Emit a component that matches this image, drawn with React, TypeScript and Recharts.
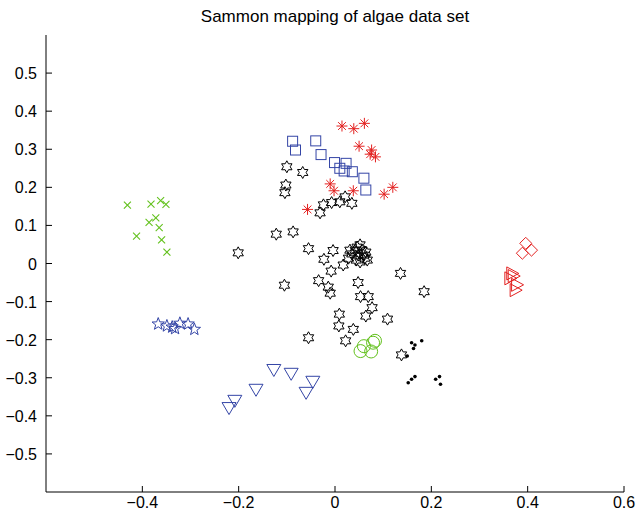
import React from "react";
import { ScatterChart, Scatter, XAxis, YAxis } from "recharts";

const TITLE = "Sammon mapping of algae data set";
const X_TICKS = [-0.4, -0.2, 0, 0.2, 0.4, 0.6];
const Y_TICKS = [-0.5, -0.4, -0.3, -0.2, -0.1, 0, 0.1, 0.2, 0.3, 0.4, 0.5];

const greenCrosses: [number, number][] = [
  [-0.431, 0.153], [-0.382, 0.156], [-0.362, 0.165], [-0.351, 0.155], [-0.372, 0.12],
  [-0.386, 0.108], [-0.365, 0.094], [-0.412, 0.072], [-0.36, 0.062], [-0.349, 0.03],
];
const blueStars: [number, number][] = [
  [-0.367, -0.159], [-0.349, -0.164], [-0.338, -0.167], [-0.332, -0.171],
  [-0.322, -0.157], [-0.305, -0.159], [-0.292, -0.173],
];
const blueTriangles: [number, number][] = [
  [-0.127, -0.277], [-0.091, -0.287], [-0.164, -0.329], [-0.046, -0.308],
  [-0.06, -0.337], [-0.208, -0.358], [-0.22, -0.377],
];
const redAsterisks: [number, number][] = [
  [0.0145, 0.361], [0.039, 0.354], [0.061, 0.368], [0.05, 0.308], [0.076, 0.298],
  [0.073, 0.287], [0.084, 0.28], [-0.01, 0.209], [-0.002, 0.191], [0.038, 0.191],
  [0.12, 0.2], [0.102, 0.182], [-0.057, 0.142],
];
const blueSquares: [number, number][] = [
  [-0.088, 0.321], [-0.082, 0.298], [-0.04, 0.322], [-0.029, 0.286], [-0.001, 0.265],
  [0.023, 0.263], [0.01, 0.25], [0.019, 0.243], [0.036, 0.241], [0.06, 0.224], [0.064, 0.193],
];
const blackHexagrams: [number, number][] = [
  [-0.1, 0.254], [-0.067, 0.239], [-0.102, 0.206], [-0.104, 0.186], [-0.031, 0.133],
  [-0.024, 0.154], [-0.007, 0.16], [0.01, 0.162], [0.021, 0.175], [0.035, 0.158],
  [-0.122, 0.077], [-0.087, 0.083], [-0.201, 0.028], [-0.055, 0.039], [-0.023, 0.011],
  [-0.004, 0.034], [0.017, -0.004], [0.028, 0.014], [0.031, 0.035], [0.052, 0.049],
  [0.059, 0.022], [0.067, 0.009], [0.042, 0.035], [0.048, 0.022], [0.056, 0.035],
  [0.062, 0.014], [0.044, 0.009], [0.052, 0.004], [0.064, 0.03], [0.035, 0.025],
  [0.046, 0.043], [-0.008, -0.02], [-0.034, -0.045], [-0.014, -0.062], [-0.01, -0.078],
  [-0.105, -0.057], [0.048, -0.05], [0.053, -0.087], [0.069, -0.087], [0.077, -0.116],
  [0.064, -0.138], [0.109, -0.146], [0.009, -0.133], [0.008, -0.164], [0.038, -0.173],
  [-0.055, -0.195], [0.022, -0.203], [0.136, -0.026], [0.185, -0.074], [0.138, -0.24],
];
const greenCircles: [number, number][] = [
  [0.053, -0.23], [0.06, -0.217], [0.075, -0.231], [0.083, -0.203], [0.079, -0.208],
];
const blackDots: [number, number][] = [
  [0.159, -0.208], [0.166, -0.214], [0.163, -0.223], [0.18, -0.203], [0.15, -0.243],
  [0.152, -0.313], [0.159, -0.304], [0.166, -0.297], [0.209, -0.304], [0.217, -0.297], [0.219, -0.317],
];
const redDiamonds: [number, number][] = [
  [0.396, 0.053], [0.389, 0.027], [0.408, 0.035],
];
const redRightTriangles: [number, number][] = [
  [0.367, -0.026], [0.37, -0.033], [0.363, -0.039], [0.377, -0.056], [0.374, -0.07],
];

const GREEN = "#62c11c";
const BLUE = "#3445a6";
const RED = "#e3201f";
const BLACK = "#000000";
const FONT = "'Liberation Sans', Arial, Helvetica, sans-serif";

const toPts = (arr: [number, number][]) => arr.map(([x, y]) => ({ x, y }));

const starPoints = (cx: number, cy: number, n: number, ro: number, ri: number, rot = -Math.PI / 2) => {
  const pts: string[] = [];
  for (let i = 0; i < n * 2; i++) {
    const r = i % 2 === 0 ? ro : ri;
    const a = rot + (i * Math.PI) / n;
    pts.push(`${(cx + r * Math.cos(a)).toFixed(2)},${(cy + r * Math.sin(a)).toFixed(2)}`);
  }
  return pts.join(" ");
};

const Cross = ({ cx, cy }: any) => (
  <g stroke={GREEN} strokeWidth={1.1}>
    <line x1={cx - 3.5} y1={cy - 3.5} x2={cx + 3.5} y2={cy + 3.5} />
    <line x1={cx - 3.5} y1={cy + 3.5} x2={cx + 3.5} y2={cy - 3.5} />
  </g>
);
const Star5 = ({ cx, cy }: any) => (
  <polygon points={starPoints(cx, cy, 5, 6.5, 2.7)} fill="none" stroke={BLUE} strokeWidth={1} />
);
const TriDown = ({ cx, cy }: any) => (
  <polygon points={`${cx - 7},${cy - 4.5} ${cx + 7},${cy - 4.5} ${cx},${cy + 7.5}`} fill="none" stroke={BLUE} strokeWidth={1} />
);
const Square = ({ cx, cy }: any) => (
  <rect x={cx - 5} y={cy - 5} width={10} height={10} fill="none" stroke={BLUE} strokeWidth={1} />
);
const Asterisk = ({ cx, cy }: any) => {
  const r = 5.5;
  const d = r * Math.SQRT1_2;
  return (
    <g stroke={RED} strokeWidth={1}>
      <line x1={cx - r} y1={cy} x2={cx + r} y2={cy} />
      <line x1={cx} y1={cy - r} x2={cx} y2={cy + r} />
      <line x1={cx - d} y1={cy - d} x2={cx + d} y2={cy + d} />
      <line x1={cx - d} y1={cy + d} x2={cx + d} y2={cy - d} />
    </g>
  );
};
const Hexagram = ({ cx, cy }: any) => (
  <polygon points={starPoints(cx, cy, 6, 6, 3.4)} fill="none" stroke={BLACK} strokeWidth={1} />
);
const Circ = ({ cx, cy }: any) => (
  <circle cx={cx} cy={cy} r={6.5} fill="none" stroke={GREEN} strokeWidth={1} />
);
const Dot = ({ cx, cy }: any) => <circle cx={cx} cy={cy} r={1.8} fill={BLACK} />;
const Diamond = ({ cx, cy }: any) => (
  <polygon points={`${cx},${cy - 6} ${cx + 6},${cy} ${cx},${cy + 6} ${cx - 6},${cy}`} fill="none" stroke={RED} strokeWidth={1} />
);
const TriRight = ({ cx, cy }: any) => (
  <polygon points={`${cx - 5},${cy - 6.5} ${cx - 5},${cy + 6.5} ${cx + 7},${cy}`} fill="none" stroke={RED} strokeWidth={1} />
);

const fmt = (v: number) => (v < 0 ? "\u2212" + String(Math.abs(v)) : String(v));

const XTick = ({ x, y, payload }: any) => (
  <g>
    <line x1={x} y1={y} x2={x} y2={y - 6} stroke={BLACK} strokeWidth={1} />
    <text x={x} y={y + 16} textAnchor="middle" fontSize={16} fontFamily={FONT} fill={BLACK}>
      {fmt(payload.value)}
    </text>
  </g>
);
const YTick = ({ x, y, payload }: any) => (
  <g>
    <line x1={x} y1={y} x2={x + 6} y2={y} stroke={BLACK} strokeWidth={1} />
    <text x={x - 9} y={y + 6} textAnchor="end" fontSize={16} fontFamily={FONT} fill={BLACK}>
      {fmt(payload.value)}
    </text>
  </g>
);

export default function App() {
  return (
    <div style={{ position: "absolute", left: 0, top: 0, width: 637, height: 516, overflow: "hidden" }}>
      <div
        style={{
          position: "absolute",
          left: 335,
          top: 8,
          transform: "translateX(-50%)",
          whiteSpace: "nowrap",
          fontFamily: FONT,
          fontSize: 17,
          lineHeight: "17px",
          color: "#000",
        }}
      >
        {TITLE}
      </div>
      <ScatterChart width={637} height={516} margin={{ top: 35, right: 13, bottom: 0, left: 0 }}>
        <XAxis
          type="number"
          dataKey="x"
          domain={[-0.6, 0.6]}
          ticks={X_TICKS}
          allowDataOverflow
          height={24}
          tickSize={0}
          tickMargin={0}
          tickLine={false}
          axisLine={{ stroke: BLACK, strokeWidth: 1 }}
          tick={<XTick />}
          interval={0}
        />
        <YAxis
          type="number"
          dataKey="y"
          domain={[-0.6, 0.6]}
          ticks={Y_TICKS}
          allowDataOverflow
          width={46}
          tickSize={0}
          tickMargin={0}
          tickLine={false}
          axisLine={{ stroke: BLACK, strokeWidth: 1 }}
          tick={<YTick />}
          interval={0}
        />
        <Scatter data={toPts(blackHexagrams)} shape={(p: any) => <Hexagram {...p} />} isAnimationActive={false} />
        <Scatter data={toPts(greenCrosses)} shape={(p: any) => <Cross {...p} />} isAnimationActive={false} />
        <Scatter data={toPts(blueStars)} shape={(p: any) => <Star5 {...p} />} isAnimationActive={false} />
        <Scatter data={toPts(blueTriangles)} shape={(p: any) => <TriDown {...p} />} isAnimationActive={false} />
        <Scatter data={toPts(blueSquares)} shape={(p: any) => <Square {...p} />} isAnimationActive={false} />
        <Scatter data={toPts(redAsterisks)} shape={(p: any) => <Asterisk {...p} />} isAnimationActive={false} />
        <Scatter data={toPts(greenCircles)} shape={(p: any) => <Circ {...p} />} isAnimationActive={false} />
        <Scatter data={toPts(blackDots)} shape={(p: any) => <Dot {...p} />} isAnimationActive={false} />
        <Scatter data={toPts(redDiamonds)} shape={(p: any) => <Diamond {...p} />} isAnimationActive={false} />
        <Scatter data={toPts(redRightTriangles)} shape={(p: any) => <TriRight {...p} />} isAnimationActive={false} />
      </ScatterChart>
    </div>
  );
}
